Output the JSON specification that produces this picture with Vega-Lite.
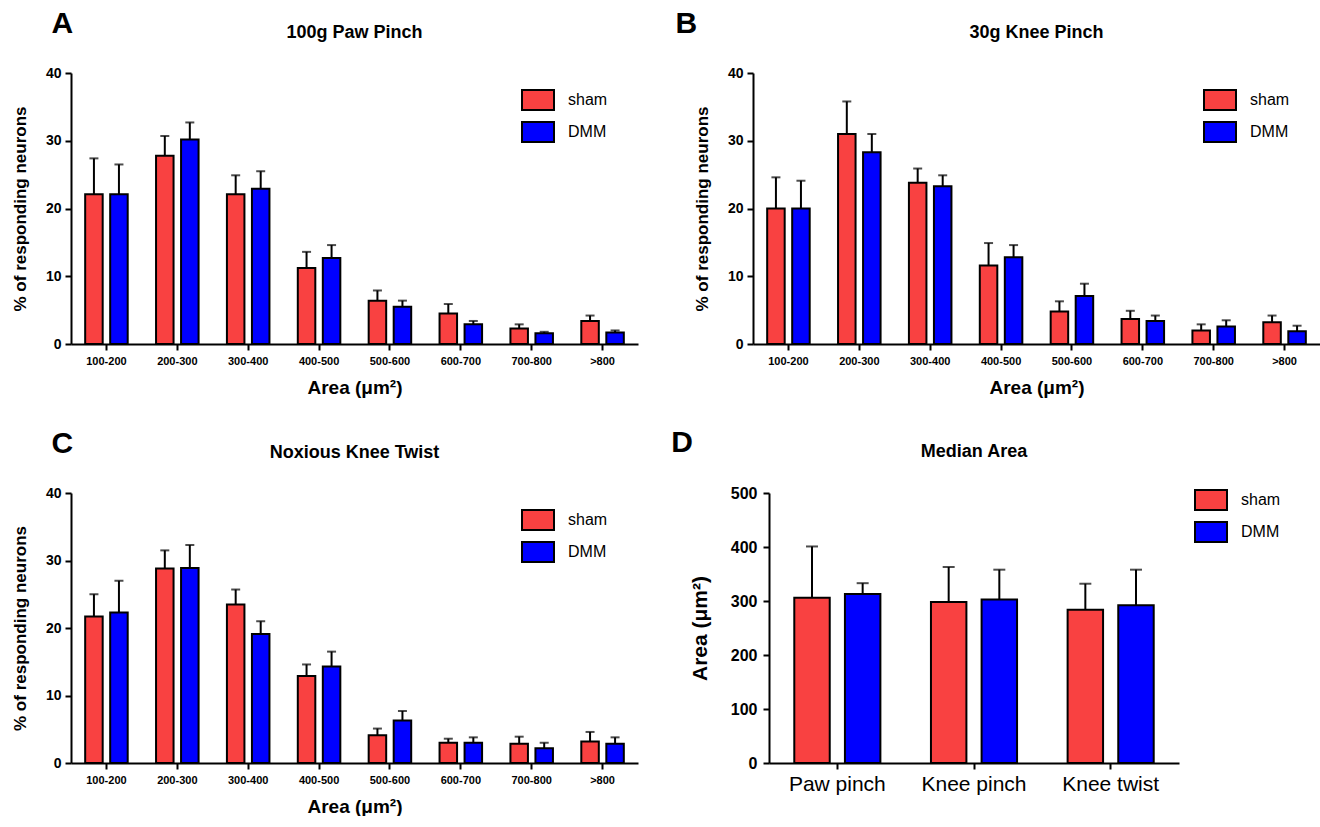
{
  "$schema": "https://vega.github.io/schema/vega-lite/v6.json",
  "padding": {"left": 11, "top": 9, "right": 0, "bottom": 0},
  "background": "white",
  "config": {
    "view": {"stroke": null},
    "font": "Liberation Sans",
    "axis": {"domainColor": "black", "domainWidth": 2, "tickColor": "black", "tickWidth": 2, "tickSize": 6, "labelColor": "black", "titleColor": "black", "grid": false, "labelFontWeight": "bold", "titleFontWeight": "bold", "labelFont": "Liberation Sans", "titleFont": "Liberation Sans"},
    "legend": {"labelFont": "Liberation Sans", "labelFontSize": 16, "labelColor": "black", "symbolType": "M-1.6,-1L1.6,-1L1.6,1L-1.6,1Z", "symbolSize": 400, "symbolStrokeColor": "black", "symbolStrokeWidth": 2, "rowPadding": 4, "labelOffset": 19, "symbolOpacity": 1},
    "title": {"color": "black", "font": "Liberation Sans", "fontWeight": "bold"}
  },
  "datasets": {
    "A": [
      {"bin": "100-200", "group": "sham", "value": 22.1, "err": 27.4},
      {"bin": "100-200", "group": "DMM", "value": 22.1, "err": 26.5},
      {"bin": "200-300", "group": "sham", "value": 27.8, "err": 30.7},
      {"bin": "200-300", "group": "DMM", "value": 30.2, "err": 32.7},
      {"bin": "300-400", "group": "sham", "value": 22.1, "err": 24.9},
      {"bin": "300-400", "group": "DMM", "value": 22.9, "err": 25.5},
      {"bin": "400-500", "group": "sham", "value": 11.2, "err": 13.6},
      {"bin": "400-500", "group": "DMM", "value": 12.7, "err": 14.6},
      {"bin": "500-600", "group": "sham", "value": 6.4, "err": 7.9},
      {"bin": "500-600", "group": "DMM", "value": 5.5, "err": 6.4},
      {"bin": "600-700", "group": "sham", "value": 4.5, "err": 5.9},
      {"bin": "600-700", "group": "DMM", "value": 2.9, "err": 3.4},
      {"bin": "700-800", "group": "sham", "value": 2.3, "err": 2.9},
      {"bin": "700-800", "group": "DMM", "value": 1.6, "err": 1.8},
      {"bin": ">800", "group": "sham", "value": 3.4, "err": 4.2},
      {"bin": ">800", "group": "DMM", "value": 1.7, "err": 2.0}
    ],
    "B": [
      {"bin": "100-200", "group": "sham", "value": 20.0, "err": 24.6},
      {"bin": "100-200", "group": "DMM", "value": 20.0, "err": 24.1},
      {"bin": "200-300", "group": "sham", "value": 31.0, "err": 35.8},
      {"bin": "200-300", "group": "DMM", "value": 28.3, "err": 31.0},
      {"bin": "300-400", "group": "sham", "value": 23.8, "err": 25.9},
      {"bin": "300-400", "group": "DMM", "value": 23.3, "err": 24.9},
      {"bin": "400-500", "group": "sham", "value": 11.6, "err": 14.9},
      {"bin": "400-500", "group": "DMM", "value": 12.8, "err": 14.6},
      {"bin": "500-600", "group": "sham", "value": 4.8, "err": 6.3},
      {"bin": "500-600", "group": "DMM", "value": 7.1, "err": 8.9},
      {"bin": "600-700", "group": "sham", "value": 3.7, "err": 4.9},
      {"bin": "600-700", "group": "DMM", "value": 3.4, "err": 4.2},
      {"bin": "700-800", "group": "sham", "value": 2.0, "err": 2.9},
      {"bin": "700-800", "group": "DMM", "value": 2.6, "err": 3.5},
      {"bin": ">800", "group": "sham", "value": 3.2, "err": 4.2},
      {"bin": ">800", "group": "DMM", "value": 1.9, "err": 2.7}
    ],
    "C": [
      {"bin": "100-200", "group": "sham", "value": 21.7, "err": 25.0},
      {"bin": "100-200", "group": "DMM", "value": 22.3, "err": 27.0},
      {"bin": "200-300", "group": "sham", "value": 28.8, "err": 31.5},
      {"bin": "200-300", "group": "DMM", "value": 28.9, "err": 32.3},
      {"bin": "300-400", "group": "sham", "value": 23.5, "err": 25.7},
      {"bin": "300-400", "group": "DMM", "value": 19.1, "err": 21.0},
      {"bin": "400-500", "group": "sham", "value": 12.9, "err": 14.6},
      {"bin": "400-500", "group": "DMM", "value": 14.3, "err": 16.5},
      {"bin": "500-600", "group": "sham", "value": 4.1, "err": 5.1},
      {"bin": "500-600", "group": "DMM", "value": 6.3, "err": 7.7},
      {"bin": "600-700", "group": "sham", "value": 3.0, "err": 3.6},
      {"bin": "600-700", "group": "DMM", "value": 3.0, "err": 3.8},
      {"bin": "700-800", "group": "sham", "value": 2.85, "err": 3.9},
      {"bin": "700-800", "group": "DMM", "value": 2.2, "err": 3.0},
      {"bin": ">800", "group": "sham", "value": 3.2, "err": 4.6},
      {"bin": ">800", "group": "DMM", "value": 2.85, "err": 3.8}
    ],
    "D": [
      {"stim": "Paw pinch", "group": "sham", "value": 306, "err": 401},
      {"stim": "Paw pinch", "group": "DMM", "value": 313, "err": 333},
      {"stim": "Knee pinch", "group": "sham", "value": 298, "err": 363},
      {"stim": "Knee pinch", "group": "DMM", "value": 303, "err": 358},
      {"stim": "Knee twist", "group": "sham", "value": 284, "err": 332},
      {"stim": "Knee twist", "group": "DMM", "value": 292, "err": 358}
    ]
  },
  "resolve": {"scale": {"color": "independent", "xOffset": "independent", "x": "independent", "y": "independent"}, "legend": {"color": "independent"}},
  "spacing": 31,
  "vconcat": [
    {
      "spacing": 37,
      "resolve": {"scale": {"color": "independent", "xOffset": "independent", "x": "independent", "y": "independent"}, "legend": {"color": "independent"}},
      "hconcat": [
        {
          "title": {"text": "A", "anchor": "start", "fontSize": 30, "offset": -15, "dx": 40},
          "resolve": {"scale": {"color": "independent", "xOffset": "independent", "x": "independent", "y": "independent"}, "legend": {"color": "independent"}},
          "vconcat": [
            {
              "title": {"text": "100g Paw Pinch", "fontSize": 18, "offset": 24},
              "width": 567, "height": 271,
              "data": {"name": "A"},
              "encoding": {
                "x": {"field": "bin", "type": "nominal", "sort": ["100-200", "200-300", "300-400", "400-500", "500-600", "600-700", "700-800", ">800"], "scale": {"paddingInner": 0.4, "paddingOuter": 0.2}, "axis": {"title": "Area (μm²)", "labelAngle": 0, "labelFontSize": 11, "titleFontSize": 19, "labelPadding": 5, "titlePadding": 12}},
                "xOffset": {"field": "group", "type": "nominal", "scale": {"domain": ["sham", "DMM"], "paddingInner": 0.3}}
              },
              "layer": [
                {"mark": {"type": "bar", "stroke": "black", "strokeWidth": 2}, "encoding": {"y": {"field": "value", "type": "quantitative", "scale": {"domain": [0, 40]}, "axis": {"title": "% of responding neurons", "values": [0, 10, 20, 30, 40], "labelFontSize": 14, "titleFontSize": 17, "labelPadding": 4, "titlePadding": 16}}, "color": {"field": "group", "type": "nominal", "scale": {"domain": ["sham", "DMM"], "range": ["#F94141", "#0000FF"]}, "legend": {"title": null, "orient": "none", "legendX": 456, "legendY": 16}}}},
                {"mark": {"type": "rule", "strokeWidth": 2, "color": "black"}, "encoding": {"y": {"field": "value", "type": "quantitative", "scale": {"domain": [0, 40]}, "axis": {"title": "% of responding neurons"}}, "y2": {"field": "err"}}},
                {"mark": {"type": "tick", "size": 9, "thickness": 2, "color": "black"}, "encoding": {"y": {"field": "err", "type": "quantitative", "scale": {"domain": [0, 40]}, "axis": {"title": "% of responding neurons"}}}}
              ]
            }
          ]
        },
        {
          "title": {"text": "B", "anchor": "start", "fontSize": 30, "offset": -15, "dx": -18},
          "resolve": {"scale": {"color": "independent", "xOffset": "independent", "x": "independent", "y": "independent"}, "legend": {"color": "independent"}},
          "vconcat": [
            {
              "title": {"text": "30g Knee Pinch", "fontSize": 18, "offset": 24},
              "width": 567, "height": 271,
              "data": {"name": "B"},
              "encoding": {
                "x": {"field": "bin", "type": "nominal", "sort": ["100-200", "200-300", "300-400", "400-500", "500-600", "600-700", "700-800", ">800"], "scale": {"paddingInner": 0.4, "paddingOuter": 0.2}, "axis": {"title": "Area (μm²)", "labelAngle": 0, "labelFontSize": 11, "titleFontSize": 19, "labelPadding": 5, "titlePadding": 12}},
                "xOffset": {"field": "group", "type": "nominal", "scale": {"domain": ["sham", "DMM"], "paddingInner": 0.3}}
              },
              "layer": [
                {"mark": {"type": "bar", "stroke": "black", "strokeWidth": 2}, "encoding": {"y": {"field": "value", "type": "quantitative", "scale": {"domain": [0, 40]}, "axis": {"title": "% of responding neurons", "values": [0, 10, 20, 30, 40], "labelFontSize": 14, "titleFontSize": 17, "labelPadding": 4, "titlePadding": 16}}, "color": {"field": "group", "type": "nominal", "scale": {"domain": ["sham", "DMM"], "range": ["#F94141", "#0000FF"]}, "legend": {"title": null, "orient": "none", "legendX": 456, "legendY": 16}}}},
                {"mark": {"type": "rule", "strokeWidth": 2, "color": "black"}, "encoding": {"y": {"field": "value", "type": "quantitative", "scale": {"domain": [0, 40]}, "axis": {"title": "% of responding neurons"}}, "y2": {"field": "err"}}},
                {"mark": {"type": "tick", "size": 9, "thickness": 2, "color": "black"}, "encoding": {"y": {"field": "err", "type": "quantitative", "scale": {"domain": [0, 40]}, "axis": {"title": "% of responding neurons"}}}}
              ]
            }
          ]
        }
      ]
    },
    {
      "spacing": 33,
      "resolve": {"scale": {"color": "independent", "xOffset": "independent", "x": "independent", "y": "independent"}, "legend": {"color": "independent"}},
      "hconcat": [
        {
          "title": {"text": "C", "anchor": "start", "fontSize": 30, "offset": -15, "dx": 40},
          "resolve": {"scale": {"color": "independent", "xOffset": "independent", "x": "independent", "y": "independent"}, "legend": {"color": "independent"}},
          "vconcat": [
            {
              "title": {"text": "Noxious Knee Twist", "fontSize": 18, "offset": 24},
              "width": 567, "height": 270,
              "data": {"name": "C"},
              "encoding": {
                "x": {"field": "bin", "type": "nominal", "sort": ["100-200", "200-300", "300-400", "400-500", "500-600", "600-700", "700-800", ">800"], "scale": {"paddingInner": 0.4, "paddingOuter": 0.2}, "axis": {"title": "Area (μm²)", "labelAngle": 0, "labelFontSize": 11, "titleFontSize": 19, "labelPadding": 5, "titlePadding": 12}},
                "xOffset": {"field": "group", "type": "nominal", "scale": {"domain": ["sham", "DMM"], "paddingInner": 0.3}}
              },
              "layer": [
                {"mark": {"type": "bar", "stroke": "black", "strokeWidth": 2}, "encoding": {"y": {"field": "value", "type": "quantitative", "scale": {"domain": [0, 40]}, "axis": {"title": "% of responding neurons", "values": [0, 10, 20, 30, 40], "labelFontSize": 14, "titleFontSize": 17, "labelPadding": 4, "titlePadding": 16}}, "color": {"field": "group", "type": "nominal", "scale": {"domain": ["sham", "DMM"], "range": ["#F94141", "#0000FF"]}, "legend": {"title": null, "orient": "none", "legendX": 456, "legendY": 16}}}},
                {"mark": {"type": "rule", "strokeWidth": 2, "color": "black"}, "encoding": {"y": {"field": "value", "type": "quantitative", "scale": {"domain": [0, 40]}, "axis": {"title": "% of responding neurons"}}, "y2": {"field": "err"}}},
                {"mark": {"type": "tick", "size": 9, "thickness": 2, "color": "black"}, "encoding": {"y": {"field": "err", "type": "quantitative", "scale": {"domain": [0, 40]}, "axis": {"title": "% of responding neurons"}}}}
              ]
            }
          ]
        },
        {
          "title": {"text": "D", "anchor": "start", "fontSize": 30, "offset": -15, "dx": -18},
          "resolve": {"scale": {"color": "independent", "xOffset": "independent", "x": "independent", "y": "independent"}, "legend": {"color": "independent"}},
          "vconcat": [
            {
              "title": {"text": "Median Area", "fontSize": 18, "offset": 24},
              "width": 410, "height": 270,
              "data": {"name": "D"},
              "encoding": {
                "x": {"field": "stim", "type": "nominal", "sort": ["Paw pinch", "Knee pinch", "Knee twist"], "scale": {"paddingInner": 0.37, "paddingOuter": 0.185}, "axis": {"title": null, "labelAngle": 0, "labelFontSize": 21, "labelFontWeight": "normal", "labelPadding": 4}},
                "xOffset": {"field": "group", "type": "nominal", "scale": {"domain": ["sham", "DMM"], "paddingInner": 0.3}}
              },
              "layer": [
                {"mark": {"type": "bar", "stroke": "black", "strokeWidth": 2}, "encoding": {"y": {"field": "value", "type": "quantitative", "scale": {"domain": [0, 500]}, "axis": {"title": "Area (μm²)", "values": [0, 100, 200, 300, 400, 500], "labelFontSize": 16, "titleFontSize": 21, "labelPadding": 6, "titlePadding": 20}}, "color": {"field": "group", "type": "nominal", "scale": {"domain": ["sham", "DMM"], "range": ["#F94141", "#0000FF"]}, "legend": {"title": null, "orient": "none", "legendX": 431, "legendY": -4}}}},
                {"mark": {"type": "rule", "strokeWidth": 2, "color": "black"}, "encoding": {"y": {"field": "value", "type": "quantitative", "scale": {"domain": [0, 500]}, "axis": {"title": "Area (μm²)"}}, "y2": {"field": "err"}}},
                {"mark": {"type": "tick", "size": 12, "thickness": 2, "color": "black"}, "encoding": {"y": {"field": "err", "type": "quantitative", "scale": {"domain": [0, 500]}, "axis": {"title": "Area (μm²)"}}}}
              ]
            }
          ]
        }
      ]
    }
  ]
}
